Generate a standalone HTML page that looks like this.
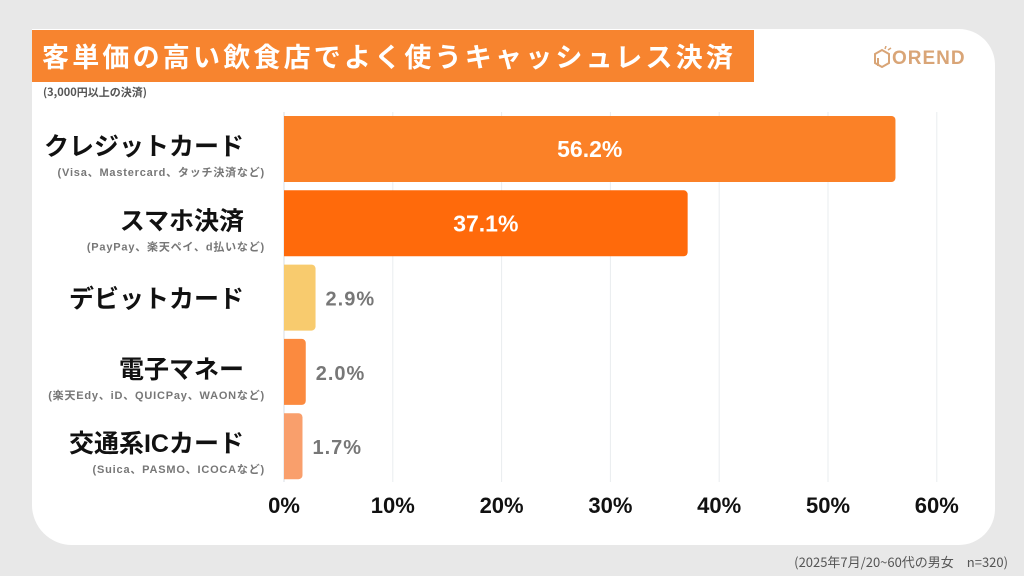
<!DOCTYPE html>
<html><head><meta charset="utf-8">
<style>
body{margin:0;width:1024px;height:576px;background:#e8e8e8;font-family:"Liberation Sans","Noto Sans CJK JP",sans-serif;overflow:hidden;position:relative}
.card{position:absolute;left:32px;top:29px;width:963px;height:516px;background:#fff;border-radius:0 36px 36px 40px}
.banner{position:absolute;left:32px;top:30px;width:722px;height:52px;background:#f7842f;color:#fff;font-weight:bold;font-size:27px;line-height:52px;padding-left:10px;box-sizing:border-box;letter-spacing:3.2px;white-space:nowrap;overflow:hidden;font-family:"Noto Sans CJK JP",sans-serif}
.sub{position:absolute;left:43px;top:84px;font-size:11px;color:#555;font-weight:bold;font-family:"Noto Sans CJK JP",sans-serif}
.logo{position:absolute;left:872px;top:46px;color:#d9a577;font-size:19px;font-weight:bold;letter-spacing:1px}
.foot{position:absolute;right:16px;top:552px;font-size:13px;color:#555;font-family:"Noto Sans CJK JP",sans-serif}
svg text{font-family:"Liberation Sans","Noto Sans CJK JP",sans-serif}
</style></head><body>
<div class="card"></div>
<div class="banner">客単価の高い飲食店でよく使うキャッシュレス決済</div>
<div class="sub">(3,000円以上の決済)</div>
<div class="logo"><svg width="20" height="22" viewBox="0 0 20 22" style="vertical-align:-4px"><path d="M3 8 L10 4 L17 8 L17 17 L10 21 L3 17 Z M6 12 L6 20" fill="none" stroke="#d9a577" stroke-width="2"/><path d="M13 3 L14 0 M16 4 L19 2" stroke="#d9a577" stroke-width="1.5"/></svg>OREND</div>
<svg id="chart" width="1024" height="576" style="position:absolute;left:0;top:0"></svg>
<div class="foot">(2025年7月/20~60代の男女　n=320)</div>
<script>
const categories=["クレジットカード","スマホ決済","デビットカード","電子マネー","交通系ICカード"];
const notes=["(Visa、Mastercard、タッチ決済など)","(PayPay、楽天ペイ、d払いなど)","","(楽天Edy、iD、QUICPay、WAONなど)","(Suica、PASMO、ICOCAなど)"];
const values=[56.2,37.1,2.9,2.0,1.7];
const ticks=[0,10,20,30,40,50,60];
const colors=["#fb8127","#ff6a0b","#f8cb6e","#fb8a3f","#f99f6c"];
const svg=document.getElementById('chart');const NS='http://www.w3.org/2000/svg';
const x0=284,pxPer=10.88,top0=116,step=74.3,bh=66;
const xs=v=>x0+v*pxPer;
function mk(t,a){const e=document.createElementNS(NS,t);for(const k in a)e.setAttribute(k,a[k]);svg.appendChild(e);return e;}
ticks.forEach(t=>{const g=mk('line',{x1:xs(t),x2:xs(t),y1:112,y2:482,stroke:t==0?'#d8dde3':'#e9ecef','stroke-width':1});


const l=mk('text',{x:xs(t),y:513,'text-anchor':'middle','font-size':22,'font-weight':'bold',fill:'#111'});l.textContent=t+'%';

});
values.forEach((v,i)=>{const y=top0+i*step;const w=xs(v)-x0;
const p=mk('path',{d:`M${x0},${y} h${w-4} a4,4 0 0 1 4,4 v${bh-8} a4,4 0 0 1 -4,4 h${-(w-4)} z`,fill:colors[i]});


const inside=v>10;
const t=mk('text',{x:inside?x0+w/2:xs(v)+10,y:y+bh/2+8,'text-anchor':inside?'middle':'start','font-size':inside?23:20,'font-weight':'bold',fill:inside?'#fff':'#777','letter-spacing':inside?0:1});
t.textContent=v.toFixed(1)+'%';


const c=mk('text',{x:244,y:notes[i]?y+bh/2+6:y+bh/2+10,'text-anchor':'end','font-size':25,'font-weight':'bold',fill:'#111'});c.textContent=categories[i];


if(notes[i]){const n=mk('text',{x:265,y:y+bh/2+27,'text-anchor':'end','font-size':11,'font-weight':'bold',fill:'#777','letter-spacing':0.8});n.textContent=notes[i];

}
});
</script>
</body></html>
